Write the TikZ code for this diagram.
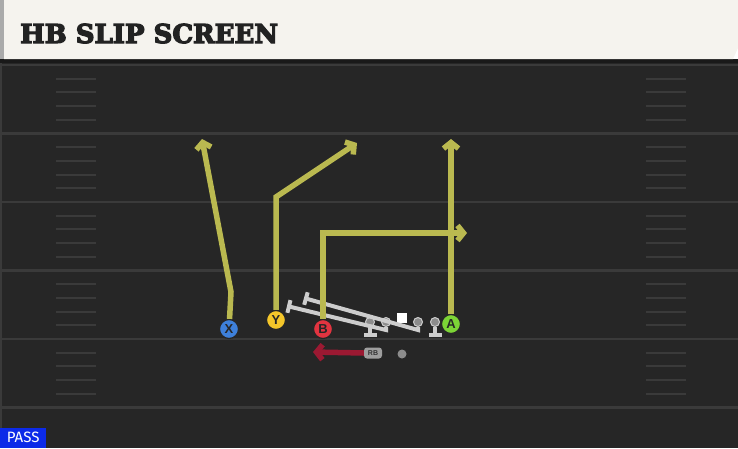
\documentclass[tikz,border=0pt]{standalone}
\usepackage{fontspec}
\setsansfont{Liberation Sans}
\newfontfamily\titlefont{DejaVu Serif}
\newfontfamily\tagfont{Fira Sans}
\usetikzlibrary{arrows.meta}

\definecolor{field}{RGB}{38,38,38}
\definecolor{fieldline}{RGB}{58,58,58}
\definecolor{header}{RGB}{245,243,238}
\definecolor{headerrim}{RGB}{170,170,170}
\definecolor{titleink}{RGB}{34,34,34}
\definecolor{routeyellow}{RGB}{186,185,80}
\definecolor{xblue}{RGB}{62,128,218}
\definecolor{yyellow}{RGB}{244,198,42}
\definecolor{bred}{RGB}{226,52,64}
\definecolor{agreen}{RGB}{124,212,54}
\definecolor{rbred}{RGB}{155,25,50}
\definecolor{blockgray}{RGB}{205,205,205}
\definecolor{olgray}{RGB}{140,140,140}
\definecolor{passblue}{RGB}{12,42,232}

% heavy outline for the title letters
\newcommand{\heavytext}[1]{\special{pdf:literal direct 1.2 w 2 Tr}#1\special{pdf:literal direct 0 Tr}}

\tikzset{
	player/.style={circle, draw=black!85, line width=1.2pt, minimum size=19pt, inner sep=0pt,
		font=\sffamily\bfseries\fontsize{13}{13}\selectfont, text=black!85},
	lineman/.style={circle, fill=olgray, draw=blockgray, line width=1pt, minimum size=9pt, inner sep=0pt},
	route/.style={draw=routeyellow, line width=5.5pt, -{Straight Barb[length=6pt,width=15pt]}},
	block/.style={draw=blockgray, line width=4pt, -{Bar[width=13pt,line width=4pt]}},
	hash/.style={draw=fieldline, line width=2pt},
}

\begin{document}
\begin{tikzpicture}[x=1pt, y=-1pt]
		\useasboundingbox (0,0) rectangle (738,448);
		% field and header
		\fill [field] (0,59) rectangle (738,448);
		\fill [black!90] (0,59) rectangle (738,63);
		\fill [headerrim] (0,0) rectangle (4,59);
		\fill [header] (4,0) -- (738,0) -- (738,48) -- (733,59) -- (4,59) -- cycle;
		\draw [fieldline, line width=1.5pt] (1,63) -- (1,448);
		\foreach \i in {0,...,5}
			\draw [fieldline, line width=2.5pt] (0,65+68.5*\i) -- (738,65+68.5*\i);
		\foreach \i in {0,...,4}
			\foreach \k in {1,...,4} {
				\draw [hash] (56,65+68.5*\i+13.7*\k) -- (96,65+68.5*\i+13.7*\k);
				\draw [hash] (646,65+68.5*\i+13.7*\k) -- (686,65+68.5*\i+13.7*\k);
			}
		\node (title) at (20,43) [anchor=base west, text=titleink, inner sep=0pt,
			font=\titlefont\bfseries\fontsize{26}{26}\selectfont] {\heavytext{HB SLIP SCREEN}};
		
		% line
		\node (LT) at (370,322) [lineman] {};
		\node (LG) at (386,322) [lineman] {};
		\node (C) at (402,318) [fill=white, minimum size=10pt, inner sep=0pt] {};
		\node (RG) at (418,322) [lineman] {};
		\node (RT) at (435,322) [lineman] {};
		\coordinate (lgend) at (287,306);
		\coordinate (rgend) at (304,298);
		
		\draw [block] (LT) -- ++(0,15);
		\draw [block] (RT) -- ++(0,15);
		\draw [block] (LG) -- ++(0,8) -- (lgend);
		\draw [block] (RG) -- ++(0,8) -- (rgend);
		
		% skill players
		\node (X) at (229,329) [player, fill=xblue] {X};
		\node (Y) at (276,320) [player, fill=yyellow] {Y};
		\node (B) at (323,329) [player, fill=bred] {B};
		\node (A) at (451,324) [player, fill=agreen] {A};
		\node (RB) at (373,353) [fill=black!38, rounded corners=3pt, minimum width=18pt, minimum height=11pt,
			inner sep=0pt, font=\sffamily\bfseries\fontsize{7}{7}\selectfont, text=black!80] {RB};
		\node (ball) at (402,354) [circle, fill=olgray, minimum size=9pt, inner sep=0pt] {};
		
		\coordinate (x1) at (231,292);
		\coordinate (x2) at (202,139);
		\coordinate (y1) at (276,197);
		\coordinate (y2) at (357,143);
		\coordinate (b1) at (323,233);
		\coordinate (b2) at (467,233);
		\coordinate (a1) at (451,139);
		\coordinate (rb1) at (313,352);
		
		\draw [route] (X) -- (x1) -- (x2);
		\draw [route] (Y) -- (y1) -- (y2);
		\draw [route] (B) -- (b1) -- (b2);
		\draw [route] (A) -- (a1);
		\draw [route, draw=rbred] (RB.west) -- (rb1);
		
		% play tag
		\node (tag) at (0,448) [anchor=south west, fill=passblue, minimum width=46pt, minimum height=20pt,
			inner sep=0pt, text=white, font=\tagfont\fontsize{15}{15}\selectfont] {PASS};
		\end{tikzpicture}
\end{document}
